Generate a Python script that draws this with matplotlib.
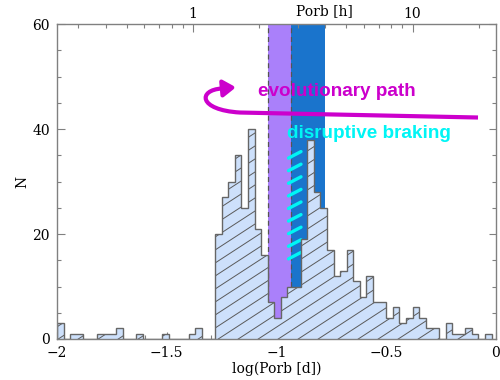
import numpy as np
import matplotlib
matplotlib.use("Agg")
import matplotlib.pyplot as plt
from matplotlib.collections import LineCollection
from matplotlib.patches import FancyArrowPatch
from matplotlib.path import Path

# ---------------- data ----------------
bin_start = -2.0
bin_width = 0.03
counts = [3, 0, 1, 1, 0, 0, 1, 1, 1, 2,
          0, 0, 1, 0, 0, 0, 1, 0, 0, 0,
          1, 2, 0, 0, 20, 27, 30, 35, 25, 40,
          21, 16, 7, 4, 8, 10, 10, 19, 38, 28,
          25, 17, 12, 13, 17, 11, 8, 12, 7, 7,
          4, 6, 3, 4, 6, 4, 2, 2, 0, 3,
          1, 1, 2, 1, 0, 1]
edges = bin_start + bin_width * np.arange(len(counts) + 1)

# period gap bands (hours)
purple_band_h = (2.2, 2.8)
blue_band_h = (2.8, 4.0)

# top axis (hours)
top_major_h = [1, 10]
top_minor_h = [0.3, 0.4, 0.5, 0.6, 0.7, 0.8, 0.9, 2, 3, 4, 5, 6, 7, 8, 9, 20]

# cyan "disruptive braking" dashes (upper y values)
dash_y = [35.7, 33.3, 30.9, 28.5, 26.1, 23.7, 21.3, 18.9, 16.5]

# ---------------- figure ----------------
serif = "DejaVu Serif"
plt.rcParams["font.family"] = serif
fig = plt.figure(figsize=(5, 3.8), dpi=100)
ax = fig.add_axes([0.114, 0.1079, 0.878, 0.8289])
ax.set_xlim(-2, 0)
ax.set_ylim(0, 60)

def h2d(h):
    return np.log10(np.asarray(h, dtype=float) / 24.0)

frame_col = "#808080"

# bands
pb = h2d(purple_band_h)
bb = h2d(blue_band_h)
ax.axvspan(pb[0], pb[1], color="#aa80fa", lw=0, zorder=1)
ax.axvspan(bb[0], bb[1], color="#1a74cc", lw=0, zorder=1)
for xv in pb:
    ax.axvline(xv, color="#555555", lw=0.9, ls=(0, (4, 3)), zorder=1.2)

# cyan dashes
segs = [[(-0.9453, y - 1.24), (-0.8884, y)] for y in dash_y]
lc_c = LineCollection(segs, colors="#00f5f5", linewidths=2.4, capstyle="round",
                      zorder=1.5)
ax.add_collection(lc_c)

# histogram
fill = ax.stairs(counts, edges, fill=True, facecolor="#cde0fb", edgecolor="none",
                 zorder=2)
# custom hatch
slope = 27.2
step = 0.0911
x0s = np.arange(-4.0, 0.2, step)
hsegs = [[(x0, -5.0), (x0 + 70.0 / slope, 65.0)] for x0 in x0s]
hlc = LineCollection(hsegs, colors="#5a5a5a", linewidths=0.7, zorder=2.1)
ax.add_collection(hlc)
hlc.set_clip_path(fill)
ax.stairs(counts, edges, fill=False, edgecolor="#666666", lw=1.0, zorder=2.2)

# magenta evolutionary path arrow
verts = [(-0.0820, 42.19), (-1.1663, 43.14),
         (-1.3585, 43.62), (-1.3585, 47.45), (-1.2483, 47.72),
         (-1.1845, 47.95)]
codes = [Path.MOVETO, Path.LINETO, Path.CURVE4, Path.CURVE4, Path.CURVE4, Path.LINETO]
arr = FancyArrowPatch(path=Path(verts, codes),
                      arrowstyle="-|>,head_length=7.5,head_width=5",
                      color="#cc00cc", lw=3.0, zorder=3, joinstyle="round",
                      capstyle="butt")
ax.add_patch(arr)

ax.text(-1.083, 46.3, "evolutionary path", color="#cc00cc", fontsize=13.6,
        fontweight="bold", family="Liberation Sans", va="baseline", ha="left",
        zorder=4)
ax.text(-0.951, 38.3, "disruptive braking", color="#00f5f5", fontsize=13.6,
        fontweight="bold", family="Liberation Sans", va="baseline", ha="left",
        zorder=4)

# axes styling
ax.set_xticks([-2, -1.5, -1, -0.5, 0])
ax.set_xticklabels(["\u22122", "\u22121.5", "\u22121", "\u22120.5", "0"])
ax.set_xticks(np.round(np.arange(-2, 0.001, 0.1), 2), minor=True)
ax.set_yticks([0, 20, 40, 60])
ax.set_yticks(np.arange(0, 61, 5), minor=True)
ax.tick_params(which="both", direction="in", top=False, right=True,
               color=frame_col, labelsize=10)
ax.tick_params(axis="x", which="both", pad=5)
ax.tick_params(axis="y", which="both", pad=5)
ax.tick_params(which="major", length=5.4, width=0.8)
ax.tick_params(which="minor", length=2.9, width=0.8)
for s in ax.spines.values():
    s.set_color(frame_col)
    s.set_linewidth(1.0)
ax.set_xlabel("log(Porb [d])", fontsize=10, labelpad=1)
ax.set_ylabel("N", fontsize=10, labelpad=2)

# top axis
ax2 = ax.twiny()
ax2.set_xlim(ax.get_xlim())
ax2.set_xticks(h2d(top_major_h))
ax2.set_xticklabels([str(h) for h in top_major_h])
ax2.set_xticks(h2d(top_minor_h), minor=True)
ax2.tick_params(which="both", direction="in", color=frame_col, labelsize=10, pad=2)
ax2.tick_params(which="major", length=5.4, width=0.8)
ax2.tick_params(which="minor", length=2.9, width=0.8)
for s in ax2.spines.values():
    s.set_visible(False)
ax2.text(0.61, 1.0 + 6 / 315, "Porb [h]", transform=ax2.transAxes, ha="center",
         va="bottom", fontsize=10)

fig.savefig("out.png", dpi=100)
